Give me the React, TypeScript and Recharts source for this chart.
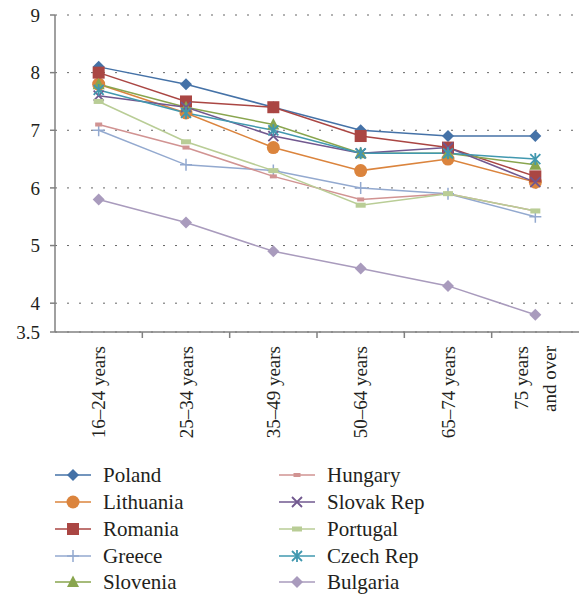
import React from 'react';
import { LineChart, Line, XAxis, YAxis, CartesianGrid } from 'recharts';

const ageGroups = ['16–24 years', '25–34 years', '35–49 years', '50–64 years', '65–74 years', '75 years\nand over'];

const poland = [8.1, 7.8, 7.4, 7.0, 6.9, 6.9];
const lithuania = [7.8, 7.3, 6.7, 6.3, 6.5, 6.1];
const romania = [8.0, 7.5, 7.4, 6.9, 6.7, 6.2];
const greece = [7.0, 6.4, 6.3, 6.0, 5.9, 5.5];
const slovenia = [7.8, 7.4, 7.1, 6.6, 6.6, 6.4];
const hungary = [7.1, 6.7, 6.2, 5.8, 5.9, 5.6];
const slovakRep = [7.6, 7.4, 6.9, 6.6, 6.7, 6.1];
const portugal = [7.5, 6.8, 6.3, 5.7, 5.9, 5.6];
const czechRep = [7.7, 7.3, 7.0, 6.6, 6.6, 6.5];
const bulgaria = [5.8, 5.4, 4.9, 4.6, 4.3, 3.8];

const yTicks = [3.5, 4, 5, 6, 7, 8, 9];

const series = [
  { name: 'Poland', values: poland, color: '#4572A7', marker: 'diamond' },
  { name: 'Lithuania', values: lithuania, color: '#DB843D', marker: 'circle' },
  { name: 'Romania', values: romania, color: '#AA4643', marker: 'square' },
  { name: 'Greece', values: greece, color: '#93A9CF', marker: 'plus' },
  { name: 'Slovenia', values: slovenia, color: '#89A54E', marker: 'triangle' },
  { name: 'Hungary', values: hungary, color: '#D19392', marker: 'dash' },
  { name: 'Slovak Rep', values: slovakRep, color: '#71588F', marker: 'x' },
  { name: 'Portugal', values: portugal, color: '#B9CD96', marker: 'wdash' },
  { name: 'Czech Rep', values: czechRep, color: '#4198AF', marker: 'star' },
  { name: 'Bulgaria', values: bulgaria, color: '#A99BBD', marker: 'diamond' },
];

const data = ageGroups.map((group, i) => {
  const row: any = { group };
  series.forEach(s => { row[s.name] = s.values[i]; });
  return row;
});

const FONT = 'Liberation Serif, Times New Roman, DejaVu Serif, serif';
const TEXT = '#231f20';
const AXIS = '#808080';

const W = 579;
const Y_AXIS_W = 55;
const BAND = (W - Y_AXIS_W) / ageGroups.length;

const Marker = ({ shape, color, cx, cy }: any) => {
  switch (shape) {
    case 'diamond':
      return <path d={`M${cx} ${cy - 6}L${cx + 6} ${cy}L${cx} ${cy + 6}L${cx - 6} ${cy}Z`} fill={color} />;
    case 'circle':
      return <circle cx={cx} cy={cy} r={6.5} fill={color} />;
    case 'square':
      return <rect x={cx - 6} y={cy - 6} width={12} height={12} fill={color} />;
    case 'triangle':
      return <path d={`M${cx} ${cy - 6.5}L${cx + 6} ${cy + 5}L${cx - 6} ${cy + 5}Z`} fill={color} />;
    case 'plus':
      return <path d={`M${cx - 6} ${cy}H${cx + 6}M${cx} ${cy - 6}V${cy + 6}`} stroke={color} strokeWidth={1.5} fill="none" />;
    case 'x':
      return <path d={`M${cx - 5} ${cy - 5}L${cx + 5} ${cy + 5}M${cx + 5} ${cy - 5}L${cx - 5} ${cy + 5}`} stroke={color} strokeWidth={1.8} fill="none" />;
    case 'star':
      return <path d={`M${cx - 5} ${cy - 5}L${cx + 5} ${cy + 5}M${cx + 5} ${cy - 5}L${cx - 5} ${cy + 5}M${cx} ${cy - 6}V${cy + 6}`} stroke={color} strokeWidth={1.8} fill="none" />;
    case 'dash':
      return <rect x={cx - 3.5} y={cy - 2} width={7} height={4} fill={color} />;
    case 'wdash':
      return <rect x={cx - 5} y={cy - 2.5} width={10} height={5} fill={color} />;
    default:
      return null;
  }
};

const AgeTick = ({ x, y, payload, index }: any) => {
  const lines = String(payload.value).split('\n');
  const start = -((lines.length - 1) * 28) / 2;
  return (
    <g transform={`translate(${x},${y})`}>
      {index < ageGroups.length - 1 && (
        <line x1={BAND / 2} x2={BAND / 2} y1={0} y2={6} stroke={AXIS} strokeWidth={1.5} />
      )}
      <text transform="rotate(-90)" textAnchor="end" fontFamily={FONT} fontSize={19} fill={TEXT}>
        {lines.map((l, i) => (
          <tspan key={i} x={-14} y={start + i * 28 + 6.5}>{l}</tspan>
        ))}
      </text>
    </g>
  );
};

const LegendBlock = () => {
  const rowY = [475, 502, 529, 556, 582];
  return (
    <svg width={579} height={595} style={{ position: 'absolute', left: 0, top: 0, pointerEvents: 'none' }}>
      {series.map((s, i) => {
        const col = i < 5 ? 0 : 1;
        const y = rowY[i % 5];
        const x0 = col === 0 ? 55 : 279;
        return (
          <g key={s.name}>
            <line x1={x0} x2={x0 + 36} y1={y} y2={y} stroke={s.color} strokeWidth={1.5} />
            <Marker shape={s.marker} color={s.color} cx={x0 + 18} cy={y} />
            <text x={x0 + 48} y={y + 7} fontFamily={FONT} fontSize={21} fill={TEXT}>{s.name}</text>
          </g>
        );
      })}
    </svg>
  );
};

export default function App() {
  return (
    <div style={{ position: 'absolute', left: 0, top: 0, width: 579, height: 595, background: '#fff', fontFamily: FONT }}>
      <LineChart width={W} height={460} data={data} margin={{ top: 15, right: 0, bottom: 8, left: 0 }}>
        <CartesianGrid vertical={false} stroke="#666" strokeDasharray="2 10" />
        <XAxis
          dataKey="group"
          scale="band"
          interval={0}
          tickLine={false}
          tickSize={0}
          tickMargin={0}
          axisLine={{ stroke: AXIS, strokeWidth: 1.5 }}
          tick={<AgeTick />}
          height={120}
        />
        <YAxis
          domain={[3.5, 9]}
          ticks={yTicks}
          interval={0}
          width={Y_AXIS_W}
          tickSize={5}
          tickMargin={10}
          axisLine={{ stroke: AXIS, strokeWidth: 1.5 }}
          tickLine={{ stroke: AXIS, strokeWidth: 1.5 }}
          tick={{ fontFamily: FONT, fontSize: 19, fill: TEXT }}
        />
        {series.map(s => (
          <Line
            key={s.name}
            dataKey={s.name}
            stroke={s.color}
            strokeWidth={1.5}
            isAnimationActive={false}
            dot={(p: any) => <Marker key={p.index} shape={s.marker} color={s.color} cx={p.cx} cy={p.cy} />}
            activeDot={false}
          />
        ))}
      </LineChart>
      <LegendBlock />
    </div>
  );
}
